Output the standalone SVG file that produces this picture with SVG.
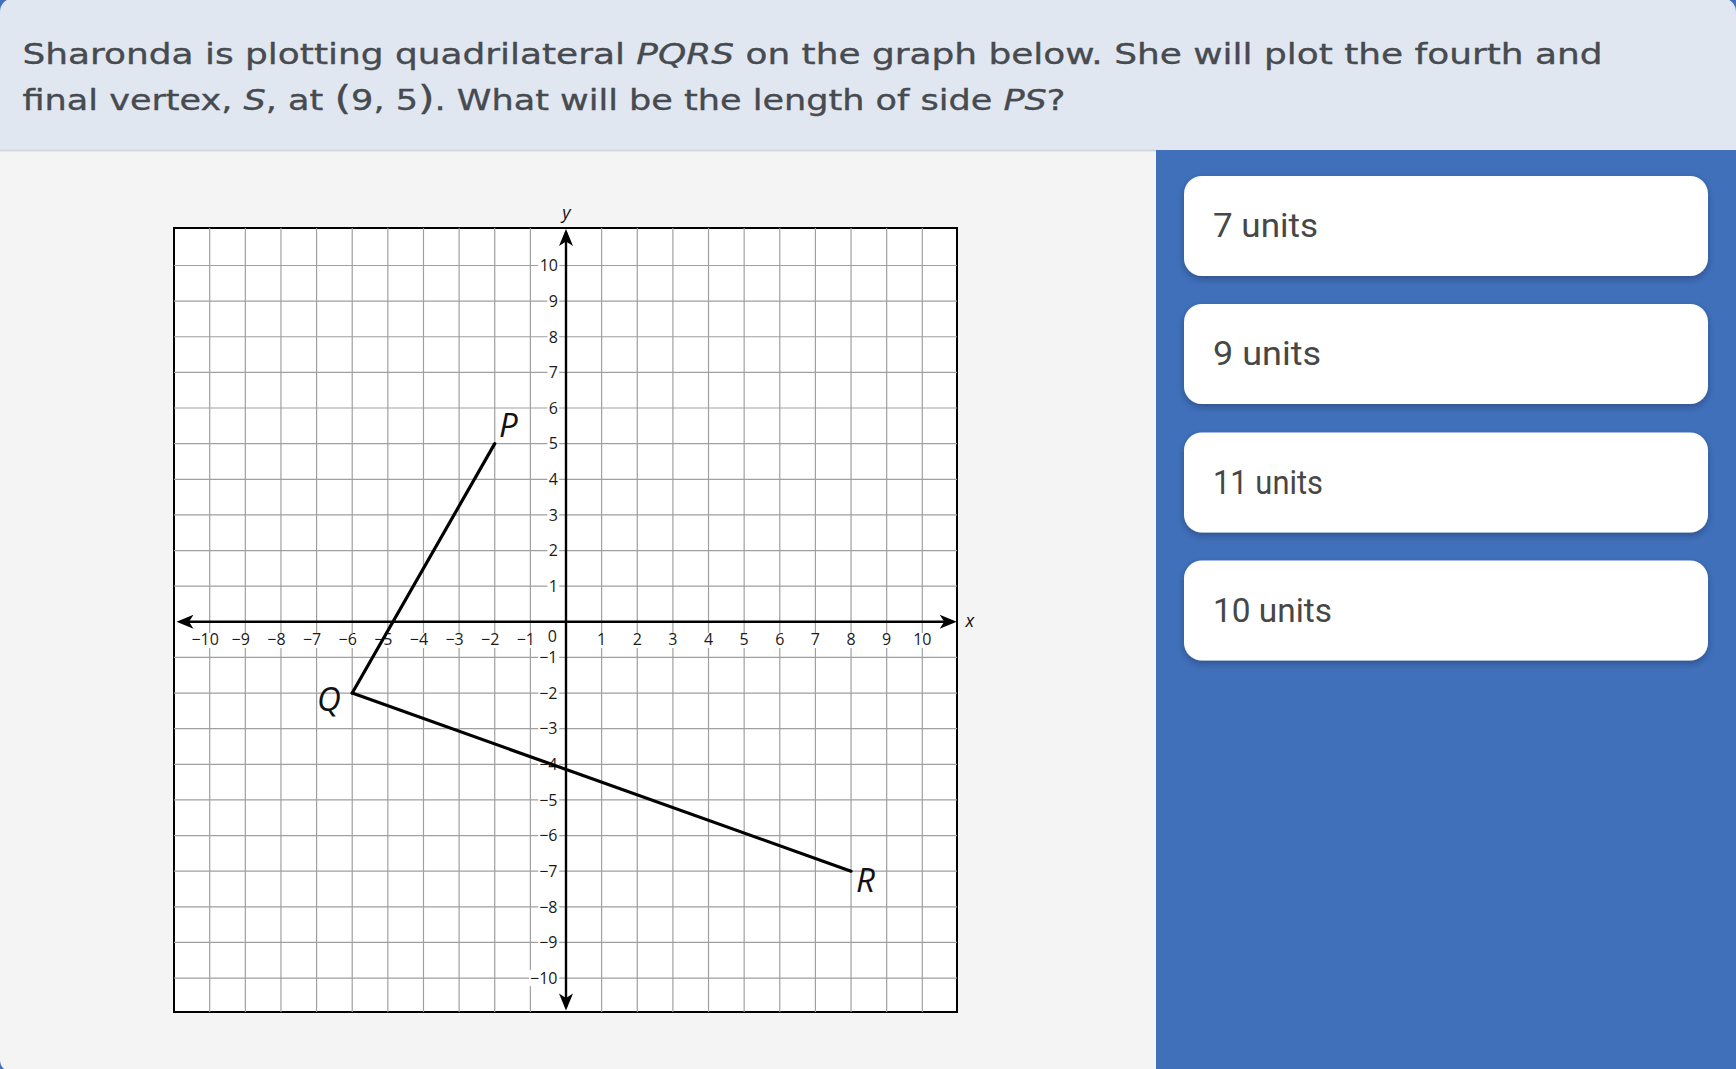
<svg xmlns="http://www.w3.org/2000/svg" xmlns:xlink="http://www.w3.org/1999/xlink" width="1736" height="1069" viewBox="0 0 1736 1069">
<defs>
<style>
.hdr{font-family:"DejaVu Sans","Noto Sans",sans-serif;font-size:28px;fill:#474a4f;stroke:#474a4f;stroke-width:0.35}
.it{font-style:italic}
.par{font-size:34px}
.tick{font-family:"Open Sans",sans-serif;font-size:16px;fill:#1a1a1a}
.lab{font-family:"Open Sans",sans-serif;font-style:italic;font-size:33px;fill:#111}
.axl{font-family:"Open Sans",sans-serif;font-style:italic;font-size:18px;fill:#111}
.grid{stroke:#a0a0a0;stroke-width:1.2;fill:none}
.axis{stroke:#000;stroke-width:2.4;fill:none}
.seg{stroke:#000;stroke-width:3.2;stroke-linecap:round;stroke-linejoin:round;fill:none}
.card{fill:#fff;filter:url(#sh)}
.ans{font-family:Roboto,"Open Sans",sans-serif;font-size:33px;fill:#474747}
.lb{fill:#fff}
</style>
<filter id="sh" x="-5%" y="-20%" width="110%" height="150%">
<feDropShadow dx="0" dy="3" stdDeviation="3" flood-color="#14244a" flood-opacity="0.4"/>
</filter>
<path id="ah" d="M0,0 L-17,-7 L-12.5,0 L-17,7 Z" fill="#000"/>
</defs>

<rect x="0" y="0" width="1736" height="1069" fill="#4070BA"/>
<path d="M0,140 H1156 V1072 H12 A12,12 0 0 1 0,1060 Z" fill="#F4F4F4"/>
<path d="M0,150 V12 A14,14 0 0 1 14,-2 H1722 A14,14 0 0 1 1736,12 V150 Z" fill="#E0E7F1"/>
<line x1="0" y1="150.5" x2="1156" y2="150.5" stroke="#D4D8DE" stroke-width="2"/>

<g id="question">
<text class="hdr" x="22.5" y="64" textLength="1580" lengthAdjust="spacingAndGlyphs">Sharonda is plotting quadrilateral <tspan class="it">PQRS</tspan> on the graph below. She will plot the fourth and</text>
<text class="hdr" x="22.5" y="110" textLength="1043" lengthAdjust="spacingAndGlyphs">final vertex, <tspan class="it">S</tspan>, at <tspan class="par">(</tspan>9, 5<tspan class="par">)</tspan>. What will be the length of side <tspan class="it">PS</tspan>?</text>
</g>

<g id="graph">
<rect x="174" y="228" width="783" height="784" fill="#fff" stroke="#000" stroke-width="2"/>
<path class="grid" d="M209.7,228V1012M245.33,228V1012M280.96,228V1012M316.59,228V1012M352.22,228V1012M387.85,228V1012M423.48,228V1012M459.11,228V1012M494.74,228V1012M530.37,228V1012M601.63,228V1012M637.26,228V1012M672.89,228V1012M708.52,228V1012M744.15,228V1012M779.78,228V1012M815.41,228V1012M851.04,228V1012M886.67,228V1012M922.3,228V1012
M174,265.5H957M174,301.13H957M174,336.76H957M174,372.39H957M174,408.02H957M174,443.65H957M174,479.28H957M174,514.91H957M174,550.54H957M174,586.17H957M174,657.43H957M174,693.06H957M174,728.69H957M174,764.32H957M174,799.95H957M174,835.58H957M174,871.21H957M174,906.84H957M174,942.47H957M174,978.1H957"/>

<g id="xlabels">
<rect class="lb" x="190.4" y="633" width="29.5" height="15"/>
<rect class="lb" x="230.6" y="633" width="20.3" height="15"/>
<rect class="lb" x="266.3" y="633" width="20.3" height="15"/>
<rect class="lb" x="301.9" y="633" width="20.3" height="15"/>
<rect class="lb" x="337.5" y="633" width="20.3" height="15"/>
<rect class="lb" x="373.2" y="633" width="20.3" height="15"/>
<rect class="lb" x="408.8" y="633" width="20.3" height="15"/>
<rect class="lb" x="444.4" y="633" width="20.3" height="15"/>
<rect class="lb" x="480.0" y="633" width="20.3" height="15"/>
<rect class="lb" x="515.7" y="633" width="20.3" height="15"/>
<rect class="lb" x="596.0" y="633" width="11.2" height="15"/>
<rect class="lb" x="631.7" y="633" width="11.2" height="15"/>
<rect class="lb" x="667.3" y="633" width="11.2" height="15"/>
<rect class="lb" x="702.9" y="633" width="11.2" height="15"/>
<rect class="lb" x="738.6" y="633" width="11.2" height="15"/>
<rect class="lb" x="774.2" y="633" width="11.2" height="15"/>
<rect class="lb" x="809.8" y="633" width="11.2" height="15"/>
<rect class="lb" x="845.4" y="633" width="11.2" height="15"/>
<rect class="lb" x="881.1" y="633" width="11.2" height="15"/>
<rect class="lb" x="912.2" y="633" width="20.3" height="15"/>
<g class="tick" text-anchor="end">
<text x="218.9" y="645">−10</text>
<text x="249.9" y="645">−9</text>
<text x="285.6" y="645">−8</text>
<text x="321.2" y="645">−7</text>
<text x="356.8" y="645">−6</text>
<text x="392.5" y="645">−5</text>
<text x="428.1" y="645">−4</text>
<text x="463.7" y="645">−3</text>
<text x="499.3" y="645">−2</text>
<text x="535.0" y="645">−1</text>
</g>
<g class="tick" text-anchor="middle">
<text x="601.63" y="645">1</text>
<text x="637.26" y="645">2</text>
<text x="672.89" y="645">3</text>
<text x="708.52" y="645">4</text>
<text x="744.15" y="645">5</text>
<text x="779.78" y="645">6</text>
<text x="815.41" y="645">7</text>
<text x="851.04" y="645">8</text>
<text x="886.67" y="645">9</text>
<text x="922.3" y="645">10</text>
</g>
</g>

<g id="ylabels">
<rect class="lb" x="538.2" y="257.5" width="21" height="16"/>
<rect class="lb" x="547.4" y="293.1" width="11.8" height="16"/>
<rect class="lb" x="547.4" y="328.8" width="11.8" height="16"/>
<rect class="lb" x="547.4" y="364.4" width="11.8" height="16"/>
<rect class="lb" x="547.4" y="400.0" width="11.8" height="16"/>
<rect class="lb" x="547.4" y="435.7" width="11.8" height="16"/>
<rect class="lb" x="547.4" y="471.3" width="11.8" height="16"/>
<rect class="lb" x="547.4" y="506.9" width="11.8" height="16"/>
<rect class="lb" x="547.4" y="542.5" width="11.8" height="16"/>
<rect class="lb" x="547.4" y="578.2" width="11.8" height="16"/>
<rect class="lb" x="546.5" y="629" width="12" height="15"/>
<rect class="lb" x="538.2" y="649.4" width="21" height="16"/>
<rect class="lb" x="538.2" y="685.1" width="21" height="16"/>
<rect class="lb" x="538.2" y="720.7" width="21" height="16"/>
<rect class="lb" x="538.2" y="756.3" width="21" height="16"/>
<rect class="lb" x="538.2" y="792.0" width="21" height="16"/>
<rect class="lb" x="538.2" y="827.6" width="21" height="16"/>
<rect class="lb" x="538.2" y="863.2" width="21" height="16"/>
<rect class="lb" x="538.2" y="898.8" width="21" height="16"/>
<rect class="lb" x="538.2" y="934.5" width="21" height="16"/>
<rect class="lb" x="529" y="970.1" width="30.2" height="16"/>
<g class="tick" text-anchor="end">
<text x="558" y="271.2">10</text>
<text x="558" y="306.8">9</text>
<text x="558" y="342.5">8</text>
<text x="558" y="378.1">7</text>
<text x="558" y="413.7">6</text>
<text x="558" y="449.4">5</text>
<text x="558" y="485.0">4</text>
<text x="558" y="520.6">3</text>
<text x="558" y="556.2">2</text>
<text x="558" y="591.9">1</text>
<text x="557" y="642">0</text>
<text x="557.5" y="663.1">−1</text>
<text x="557.5" y="698.8">−2</text>
<text x="557.5" y="734.4">−3</text>
<text x="557.5" y="770.0">−4</text>
<text x="557.5" y="805.7">−5</text>
<text x="557.5" y="841.3">−6</text>
<text x="557.5" y="876.9">−7</text>
<text x="557.5" y="912.5">−8</text>
<text x="557.5" y="948.2">−9</text>
<text x="557.5" y="983.8">−10</text>
</g>
</g>

<g id="axes">
<path class="axis" d="M180,621.8H953M566,232V1007"/>
<use xlink:href="#ah" transform="translate(956.7,621.8)"/>
<use xlink:href="#ah" transform="translate(176.5,621.8) rotate(180)"/>
<use xlink:href="#ah" transform="translate(566,229) rotate(-90)"/>
<use xlink:href="#ah" transform="translate(566,1010.5) rotate(90)"/>
<text class="axl" x="965.5" y="627">x</text>
<text class="axl" x="566.5" y="219" text-anchor="middle">y</text>
</g>
</g>

<g id="connectors">
<path class="seg" d="M494.74,443.65 L352.22,693.06"/>
<path class="seg" d="M352.22,693.06 L851.04,871.21"/>
</g>

<g id="P"><text class="lab" x="499" y="436.5">P</text></g>
<g id="Q"><text class="lab" x="317" y="711">Q</text></g>
<g id="R"><text class="lab" x="856" y="891.5">R</text></g>

<g id="answer-7">
<rect class="card" x="1184" y="176" width="524" height="100" rx="18"/>
<text class="ans" x="1213" y="237" textLength="105" lengthAdjust="spacingAndGlyphs">7 units</text>
</g>
<g id="answer-9">
<rect class="card" x="1184" y="304" width="524" height="100" rx="18"/>
<text class="ans" x="1213" y="365" textLength="108" lengthAdjust="spacingAndGlyphs">9 units</text>
</g>
<g id="answer-11">
<rect class="card" x="1184" y="432.5" width="524" height="100" rx="18"/>
<text class="ans" x="1213" y="493.5" textLength="110" lengthAdjust="spacingAndGlyphs">11 units</text>
</g>
<g id="answer-10">
<rect class="card" x="1184" y="560.5" width="524" height="100" rx="18"/>
<text class="ans" x="1213" y="621.5" textLength="119" lengthAdjust="spacingAndGlyphs">10 units</text>
</g>
</svg>
